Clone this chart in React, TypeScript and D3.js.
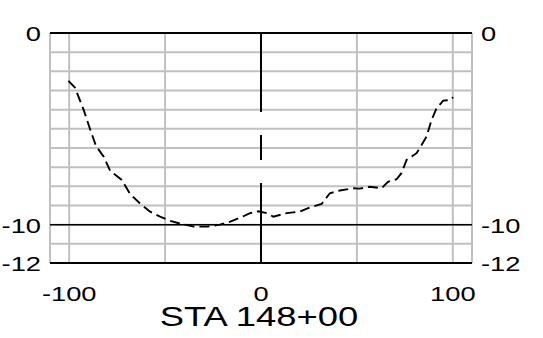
import React from "react";
import * as d3 from "d3";

const offsets = [-100.4, -97, -92.5, -89, -86, -82, -78.6, -75, -72.6, -68.2, -63, -57.8, -52.6, -48, -42, -35, -28, -21.4, -16, -10, -5.7, -1.4, 3, 6.4, 13.4, 20.3, 25.5, 31.6, 35.9, 41.1, 48, 51.6, 56.8, 62.9, 66.2, 70.7, 73.3, 75.9, 81.1, 86.3, 88.9, 91.5, 95, 98.4, 100.2];
const elevations = [-2.5, -2.85, -4.0, -5.05, -5.9, -6.45, -7.2, -7.48, -7.67, -8.4, -8.9, -9.32, -9.58, -9.78, -9.95, -10.1, -10.1, -10.0, -9.84, -9.6, -9.4, -9.3, -9.4, -9.58, -9.4, -9.32, -9.1, -8.92, -8.36, -8.22, -8.1, -8.12, -8.02, -8.1, -7.76, -7.63, -7.3, -6.62, -6.27, -5.41, -4.54, -3.93, -3.53, -3.5, -3.35];
const xTicks = [-100, 0, 100];
const yTicks = [0, -10, -12];
const xGrid = [-110, -100, -50, 50, 100, 110];
const yGrid = d3.range(0, -13, -1);
const title = "STA 148+00";

export default function App() {
  const W = 543, H = 338;
  const left = 50, right = 472, top = 33, bottom = 263;
  const x = d3.scaleLinear().domain([-110, 110]).range([left, right]);
  const y = d3.scaleLinear().domain([0, -12]).range([top, bottom]);
  const line = d3.line<number>().x((d, i) => x(offsets[i])).y((d) => y(d));
  const sx = 1.3;
  const font = "'Liberation Sans', Arial, sans-serif";
  const grey = "#c0c0c0";
  return (
    <svg width={W} height={H} style={{ position: "absolute", left: 0, top: 0 }}>
      <rect width={W} height={H} fill="#fff" />
      {yGrid.map((v) => (
        <line key={"h" + v} x1={left} x2={right} y1={y(v)} y2={y(v)} stroke={grey} strokeWidth={2} />
      ))}
      {xGrid.map((v) => (
        <line key={"v" + v} x1={x(v)} x2={x(v)} y1={top} y2={bottom} stroke={grey} strokeWidth={2} />
      ))}
      {[0, -10, -12].map((v) => (
        <line key={"b" + v} x1={left} x2={right} y1={y(v)} y2={y(v)} stroke="#000" strokeWidth={v === -10 ? 1.5 : 2} />
      ))}
      <line x1={x(0)} x2={x(0)} y1={y(0)} y2={y(-12)} stroke="#000" strokeWidth={2} strokeDasharray="79,23,25,23,80" />
      <path d={line(elevations) || ""} fill="none" stroke="#000" strokeWidth={1.9} strokeDasharray="10,5" />
      {yTicks.map((v) => (
        <g key={"yl" + v}>
          <text transform={`translate(41,${y(v) + 8}) scale(${sx},1)`} textAnchor="end" fontFamily={font} fontSize={21}>{v}</text>
          <text transform={`translate(481,${y(v) + 8}) scale(${sx},1)`} textAnchor="start" fontFamily={font} fontSize={21}>{v}</text>
        </g>
      ))}
      {xTicks.map((v) => (
        <text key={"xl" + v} transform={`translate(${x(v)},301) scale(${sx},1)`} textAnchor="middle" fontFamily={font} fontSize={21}>{v}</text>
      ))}
      <text transform={`translate(${x(0) - 2},325.5) scale(${sx},1)`} textAnchor="middle" fontFamily={font} fontSize={28}>{title}</text>
    </svg>
  );
}
